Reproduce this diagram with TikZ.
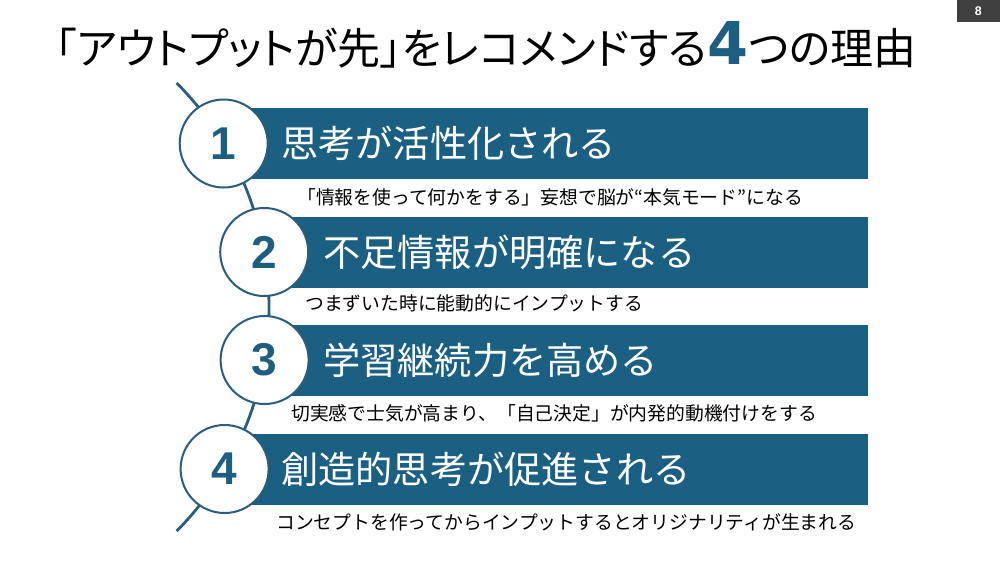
\documentclass[tikz,border=0pt]{standalone}
\usepackage{fontspec}
\setmainfont{Noto Sans CJK JP}
\newfontfamily\titlefont[RawFeature=+palt]{Noto Sans CJK JP}
\newfontfamily\numfont{Liberation Sans}
\newfontfamily\bignumfont{DejaVu Sans}
\definecolor{bandblue}{HTML}{1B5F82}
\definecolor{linecol}{HTML}{2B5E78}
\definecolor{numblue}{HTML}{1E5E80}
\definecolor{pagegray}{HTML}{404040}
\tikzset{
  bandbox/.style={fill=bandblue, draw=none, anchor=west, minimum height=71pt, inner sep=0pt},
  numcircle/.style={circle, draw=linecol, line width=2pt, fill=white, minimum size=88pt, inner sep=0pt,
    text=numblue, font=\numfont\bfseries\fontsize{46}{46}\selectfont},
  bandtext/.style={anchor=west, inner sep=0pt, text=white, font=\fontsize{37.2}{40}\selectfont},
  subtext/.style={anchor=west, inner sep=0pt, text=black, font=\fontsize{18.8}{20}\selectfont},
  arcline/.style={draw=linecol, line width=2.8pt}
}
\begin{document}
\begin{tikzpicture}[x=1pt,y=-1pt]
\useasboundingbox (0,0) rectangle (1000,563);
\fill[white] (0,0) rectangle (1000,563);
% page number
\node[fill=pagegray, minimum width=43pt, minimum height=22pt, inner sep=0pt, anchor=north east,
  text=white, font=\numfont\bfseries\fontsize{12.5}{12.5}\selectfont] (page) at (1000,0) {8};
% title
\node[anchor=base west, inner sep=0pt, font=\titlefont\fontsize{43}{47}\selectfont] (title) at (55,64)
  {「アウトプットが先」をレコメンドする{\color{numblue}\bignumfont\bfseries\fontsize{59}{59}\selectfont 4}つの理由};
% arc
\coordinate (arctop) at (178,83);
\coordinate (arcbot) at (178,530);
\draw[arcline, domain=-44.8:44.8, samples=80, smooth, variable=\t]
  plot ({-49+318*cos(\t)},{307-318*sin(\t)});
% bands
\node[bandbox, minimum width=644.3pt] (b1) at (223.7,143.5) {};
\node[bandbox, minimum width=603.8pt] (b2) at (264.2,252) {};
\node[bandbox, minimum width=603.4pt] (b3) at (264.6,360) {};
\node[bandbox, minimum width=643.4pt] (b4) at (224.6,469) {};
% circles
\node[numcircle] (c1) at (223.7,143.5) {1};
\node[numcircle] (c2) at (264.2,252) {2};
\node[numcircle] (c3) at (264.6,360) {3};
\node[numcircle] (c4) at (224.6,469) {4};
% band titles
\node[bandtext] (t1) at (281,143.5) {思考が活性化される};
\node[bandtext] (t2) at (323,252) {不足情報が明確になる};
\node[bandtext] (t3) at (323,360) {学習継続力を高める};
\node[bandtext] (t4) at (281,469) {創造的思考が促進される};
% subtitles
\node[subtext] (s1) at (297,197) {「情報を使って何かをする」妄想で脳が“本気モード”になる};
\node[subtext] (s2) at (305,303) {つまずいた時に能動的にインプットする};
\node[subtext] (s3) at (291,413) {切実感で士気が高まり、「自己決定」が内発的動機付けをする};
\node[subtext] (s4) at (276,522) {コンセプトを作ってからインプットするとオリジナリティが生まれる};
\end{tikzpicture}
\end{document}
